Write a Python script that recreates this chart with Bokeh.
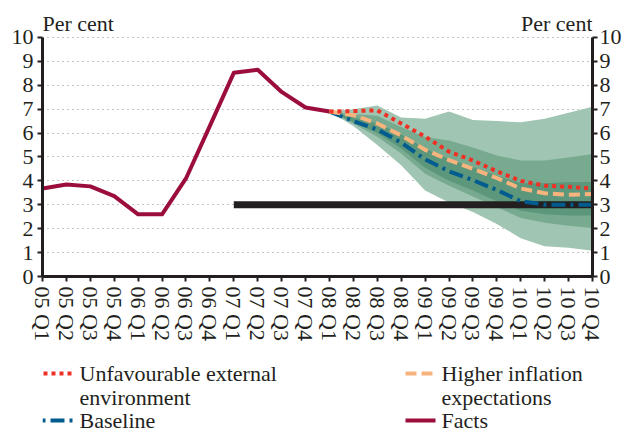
from bokeh.plotting import figure
from bokeh.models import Range1d, Label, FixedTicker, LinearAxis
from bokeh.layouts import column
from bokeh.embed import file_html
from bokeh.resources import INLINE
from bokeh.core.properties import value

# ---------------- data ----------------
quarters = ["05 Q1", "05 Q2", "05 Q3", "05 Q4",
            "06 Q1", "06 Q2", "06 Q3", "06 Q4",
            "07 Q1", "07 Q2", "07 Q3", "07 Q4",
            "08 Q1", "08 Q2", "08 Q3", "08 Q4",
            "09 Q1", "09 Q2", "09 Q3", "09 Q4",
            "10 Q1", "10 Q2", "10 Q3", "10 Q4"]

facts = [3.68, 3.85, 3.77, 3.36, 2.6, 2.6, 4.1, 6.3, 8.52, 8.65, 7.72, 7.07, 6.9]

forecast_start = 12  # 08 Q1
baseline = [6.9, 6.5, 6.15, 5.6, 4.9, 4.4, 4.03, 3.62, 3.15, 3.0, 3.0, 3.0]
higher_inflation = [6.9, 6.75, 6.4, 5.9, 5.3, 4.87, 4.5, 4.12, 3.68, 3.48, 3.42, 3.45]
unfavourable = [6.9, 6.92, 6.95, 6.4, 5.85, 5.22, 4.85, 4.4, 4.0, 3.8, 3.75, 3.68]

outer_hi = [6.9, 7.0, 7.15, 6.65, 6.6, 6.9, 6.55, 6.5, 6.45, 6.6, 6.85, 7.1]
outer_lo = [6.9, 6.3, 5.5, 4.65, 3.6, 3.1, 2.7, 2.2, 1.6, 1.27, 1.2, 1.08]
mid_hi = [6.9, 6.8, 6.72, 6.25, 5.83, 5.69, 5.4, 5.06, 4.85, 4.85, 4.98, 5.12]
mid_lo = [6.9, 6.4, 5.85, 5.15, 4.3, 3.8, 3.35, 2.9, 2.45, 2.25, 2.12, 2.03]
inner_hi = [6.9, 6.65, 6.4, 5.95, 5.35, 4.9, 4.58, 4.22, 3.9, 3.9, 3.95, 3.95]
inner_lo = [6.9, 6.45, 6.0, 5.35, 4.55, 4.0, 3.6, 3.15, 2.75, 2.6, 2.55, 2.55]

target_value = 3.0
target_start = 8  # 07 Q1

y_ticks = list(range(0, 11))

# ---------------- styles ----------------
FONT = "Liberation Serif"
INK = "#231F20"
C_FACTS = "#9B0D3B"
C_RED = "#EE3124"
C_ORANGE = "#F9B47E"
C_BLUE = "#005B8E"
C_OUTER = "#A0C5B2"
C_MID = "#78AA90"
C_INNER = "#5C977B"

W = 624
H_MAIN = 350
H_LEG = 82
B_LEFT = 42
B_RIGHT = 32

x_all = list(range(len(quarters)))
x_fc = list(range(forecast_start, forecast_start + len(baseline)))
x_facts = list(range(len(facts)))

p = figure(width=W, height=H_MAIN, output_backend="svg", toolbar_location=None,
           x_range=Range1d(0, len(quarters) - 1), y_range=Range1d(0, 11.21),
           min_border_left=B_LEFT, min_border_right=B_RIGHT, min_border_top=8,
           min_border_bottom=74)
p.outline_line_color = None
p.background_fill_color = "white"
p.border_fill_color = "white"

# fan bands
p.varea(x=x_fc, y1=outer_lo, y2=outer_hi, fill_color=C_OUTER)
p.varea(x=x_fc, y1=mid_lo, y2=mid_hi, fill_color=C_MID)
p.varea(x=x_fc, y1=inner_lo, y2=inner_hi, fill_color=C_INNER)

# target
p.line(x=[target_start, len(quarters) - 1], y=[target_value, target_value],
       line_color=INK, line_width=7)

# facts
p.line(x=x_facts, y=facts, line_color=C_FACTS, line_width=4, line_join="round")

# scenarios
p.line(x=x_fc, y=baseline, line_color=C_BLUE, line_width=4, line_dash="14 5 3 5")
p.line(x=x_fc, y=higher_inflation, line_color=C_ORANGE, line_width=4, line_dash="11 5")
p.line(x=x_fc, y=unfavourable, line_color=C_RED, line_width=4, line_dash="4 4")

# axes
def style_axis(ax, size="22px"):
    ax.axis_line_color = INK
    ax.axis_line_width = 3
    ax.major_tick_line_color = INK
    ax.major_tick_line_width = 2
    ax.major_tick_out = 5
    ax.major_tick_in = 0
    ax.minor_tick_line_color = None
    ax.major_label_text_font = FONT
    ax.major_label_text_font_size = size
    ax.major_label_text_color = INK

p.yaxis.ticker = FixedTicker(ticks=y_ticks)
style_axis(p.yaxis[0])
p.yaxis.bounds = (0, 10)
p.yaxis.major_label_standoff = 4
right = LinearAxis(ticker=FixedTicker(ticks=y_ticks), bounds=(0, 10))
style_axis(right)
right.major_label_standoff = 2
p.add_layout(right, "right")

p.xaxis.ticker = FixedTicker(ticks=x_all)
p.xaxis.major_label_overrides = {i: q for i, q in enumerate(quarters)}
p.xaxis.major_label_orientation = "vertical"
style_axis(p.xaxis[0])
p.xaxis.major_label_standoff = 5

p.xgrid.visible = False
p.ygrid.ticker = FixedTicker(ticks=y_ticks)
p.ygrid.grid_line_color = "#8A8A8A"
p.ygrid.grid_line_dash = "1 4"
p.ygrid.grid_line_width = 1

p.add_layout(Label(x=0, y=10, x_offset=0, y_offset=14, text="Per cent",
                   text_font=FONT, text_font_size="22px", text_color=INK,
                   text_baseline="alphabetic", text_align="left"))
p.add_layout(Label(x=len(quarters) - 1, y=10, x_offset=0, y_offset=14, text="Per cent",
                   text_font=FONT, text_font_size="22px", text_color=INK,
                   text_baseline="alphabetic", text_align="right"))

# ---------------- legend ----------------
# the column layout aligns this frame with the main frame (page x 42..592),
# so the x range is expressed in page pixels over that span
lg = figure(width=W, height=H_LEG, output_backend="svg", toolbar_location=None,
            x_range=Range1d(B_LEFT, W - B_RIGHT), y_range=Range1d(H_LEG, 0),
            x_axis_location=None, y_axis_location=None,
            min_border_left=B_LEFT, min_border_right=B_RIGHT,
            min_border_top=0, min_border_bottom=0)
lg.grid.visible = False
lg.outline_line_color = None

legend_items = [
    ("Unfavourable external", "environment", C_RED, "4 4", 43, 30, 23),
    ("Higher inflation", "expectations", C_ORANGE, "11 5", 405, 28, 23),
    ("Baseline", None, C_BLUE, "3 5 14 5", 42, 31, 70),
    ("Facts", None, C_FACTS, "solid", 405, 30, 70),
]
for line1, line2, col, dash, x0, ln, y0 in legend_items:
    lg.line(x=[x0, x0 + ln], y=[y0, y0], line_color=col, line_width=4, line_dash=dash)
    tx = 79 if x0 < 200 else 441
    lg.text(x=[tx], y=[y0], text=[line1], text_font=value(FONT),
            text_font_size="22px", text_color=INK, text_baseline="middle")
    if line2:
        lg.text(x=[tx], y=[y0 + 24], text=[line2], text_font=value(FONT),
                text_font_size="22px", text_color=INK, text_baseline="middle")

layout = column(p, lg, spacing=0)
open("out.html", "w").write(file_html(layout, INLINE))
